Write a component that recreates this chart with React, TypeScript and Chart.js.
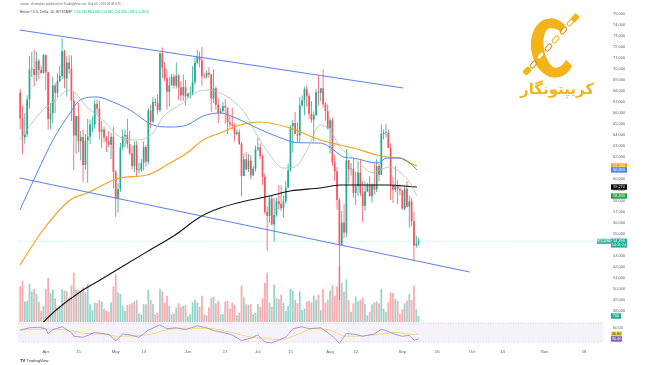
import React, { useEffect, useRef } from "react";
import { Chart, registerables } from "chart.js";

Chart.register(...registerables);

// ---------- data (daily BTC/USD, Bitstamp; day 0 = Apr 1 2024) ----------
const FIRST_DAY = -11; // Mar 21, 2024

const OPEN = [
  67860, 65490, 63780, 64060, 67220, 69960, 69990, 69450, 70750, 69900, 69640,
  71280, 69700, 65460, 65970, 68510, 67840, 68900, 69360, 71620, 69140, 70590, 70010, 67140, 63950, 65720, 63440, 63810, 61280, 63490, 63840, 64950, 64960, 66830, 66410, 64290, 64500, 63770, 63440, 63120, 63840,
  60640, 58250, 59090, 62890, 63890, 64010, 63170, 62330, 61190, 63070, 60790, 60830, 61460, 62900, 61570, 66240, 65230, 67030, 66920, 66270, 71430, 70140, 69150, 67930, 68510, 69290, 68500, 69400, 68330, 67600, 68350,
  67500, 67740, 67760, 68800, 70560, 71080, 70790, 69350, 69310, 69650, 69510, 67320, 68240, 66760, 66010, 66190, 66640, 66490, 65150, 64960, 64840, 64100, 64260, 63190, 60280, 61800, 60860, 61670, 60320, 60940,
  62700, 62880, 62100, 60200, 57020, 56650, 58230, 55870, 56710, 57990, 57720, 57330, 57950, 59220, 60800, 64780, 65080, 64100, 63950, 66700, 67170, 68170, 67570, 65930, 65400, 65800, 67880, 67830, 68250, 66800, 66180,
  64620, 65350, 61500, 60700, 58100, 54020, 56040, 55130, 61700, 60880, 60930, 58720, 59350, 60600, 58740, 57550, 58870, 59480, 58440, 59500, 59030, 61180, 60390, 64100, 64200, 64200, 62820, 59420, 59030, 59370, 59100,
  58950, 57310, 59120, 57480, 57970, 56160, 53950, 54140,
];
const HIGH = [
  68160, 66650, 65990, 67620, 71150, 71540, 71760, 71540, 70900, 70310, 71370,
  71300, 69700, 66900, 69290, 68720, 69620, 70300, 72800, 71750, 71160, 71270, 71230, 67930, 65780, 66900, 64360, 64480, 64120, 65480, 65420, 65700, 67250, 67200, 67080, 65300, 64800, 63920, 64360, 64230, 64720,
  60820, 59600, 63300, 64490, 64510, 65480, 64400, 62990, 63430, 63440, 61470, 61820, 63420, 63100, 66440, 66720, 67440, 67390, 67700, 71500, 71950, 70640, 70000, 69250, 69550, 69520, 70600, 69550, 68900, 69500, 69000,
  67850, 68400, 70250, 71060, 71750, 71600, 72000, 69580, 69860, 70150, 69560, 69990, 68440, 67330, 66440, 66990, 67270, 66490, 65720, 66470, 65060, 64520, 64520, 63370, 62350, 62440, 62270, 62170, 61180, 63050,
  63800, 63260, 62300, 60500, 57490, 58470, 58480, 58250, 58290, 59450, 59400, 58520, 59830, 61400, 64870, 65380, 66100, 65150, 67440, 67620, 68370, 68480, 67800, 67100, 66140, 68200, 69400, 68300, 70000, 67000, 66800,
  65600, 65600, 62200, 61100, 58300, 57100, 57700, 62700, 61750, 61450, 61850, 60680, 61570, 61800, 59850, 59800, 59650, 60250, 59600, 61400, 61800, 61400, 64950, 64500, 65000, 64500, 63250, 60200, 61200, 59900, 59450,
  59000, 59400, 59800, 58500, 58300, 56990, 54850, 54690,
];
const LOW = [
  64550, 62260, 63200, 63820, 66390, 69270, 68400, 68920, 69060, 69570, 69600,
  68100, 64500, 64500, 65060, 66000, 67460, 68800, 69040, 68220, 67510, 69570, 65260, 60800, 62300, 62400, 61700, 59700, 60830, 59650, 63160, 64280, 64560, 65880, 63600, 62800, 63320, 62450, 62880, 61820, 59130,
  56550, 56950, 58840, 62590, 62910, 62770, 62160, 60880, 60640, 60180, 60500, 60630, 60780, 61130, 61350, 64620, 65100, 66610, 65860, 66080, 69160, 68880, 66310, 66600, 68470, 68200, 68230, 67210, 67100, 67130, 66680,
  67380, 67320, 67610, 68560, 70400, 70130, 68500, 69130, 69120, 69230, 66100, 66920, 66310, 65080, 65890, 66020, 65030, 64060, 64700, 64530, 63400, 63930, 63100, 58400, 60250, 60790, 60630, 60000, 60300, 60680,
  62530, 61800, 59450, 56800, 53500, 56020, 55800, 54300, 56570, 57200, 57100, 56520, 57750, 59220, 60650, 62420, 64100, 63270, 63270, 66470, 65800, 66600, 65450, 65120, 63450, 65750, 66700, 67060, 66500, 65300, 64530,
  62300, 61200, 59850, 57200, 49000, 54000, 54600, 54700, 59600, 60300, 58300, 57650, 58450, 58450, 56100, 57100, 58800, 58400, 57850, 58600, 58800, 59800, 60350, 63600, 63800, 62800, 58100, 57850, 58800, 57700, 58500,
  57200, 57150, 57450, 55600, 55700, 52550, 53750, 53930,
];
const CLOSE = [
  65490, 63780, 64060, 67220, 69960, 69990, 69450, 70750, 69900, 69640, 71280,
  69700, 65460, 65970, 68510, 67840, 68900, 69360, 71620, 69140, 70590, 70010, 67140, 63950, 65720, 63440, 63810, 61280, 63490, 63840, 64950, 64960, 66830, 66410, 64290, 64500, 63770, 63440, 63120, 63840, 60640,
  58250, 59090, 62890, 63890, 64010, 63170, 62330, 61190, 63070, 60790, 60830, 61460, 62900, 61570, 66240, 65230, 67030, 66920, 66270, 71430, 70140, 69150, 67930, 68510, 69290, 68500, 69400, 68330, 67600, 68350, 67500,
  67740, 67760, 68800, 70560, 71080, 70790, 69350, 69310, 69650, 69510, 67320, 68240, 66760, 66010, 66190, 66640, 66490, 65150, 64960, 64840, 64100, 64260, 63190, 60280, 61800, 60860, 61670, 60320, 60940, 62700,
  62880, 62100, 60200, 57020, 56650, 58230, 55870, 56710, 57990, 57720, 57330, 57950, 59220, 60800, 64780, 65080, 64100, 63950, 66700, 67170, 68170, 67570, 65930, 65400, 65800, 67880, 67830, 68250, 66800, 66180, 64620,
  65350, 61500, 60700, 58100, 54020, 56040, 55130, 61700, 60880, 60930, 58720, 59350, 60600, 58740, 57550, 58870, 59480, 58440, 59500, 59030, 61180, 60390, 64100, 64200, 64200, 62820, 59420, 59030, 59370, 59100, 58950,
  57310, 59120, 57480, 57970, 56160, 53950, 54140, 54330,
];
const VOLUME = [
  4200, 4800, 2400, 2500, 4500, 3600, 3900, 3300, 2400, 1300, 1900,
  3900, 5200, 3400, 3800, 2800, 1600, 1800, 3900, 3700, 3600, 2900, 4300, 5800, 3800, 3800, 3700, 4100, 3500, 4500, 2100, 1400, 2300, 2200, 2600, 2400, 1600, 1300, 1200, 2300, 4200,
  5600, 3500, 3300, 1900, 1300, 2000, 2100, 2200, 2400, 2600, 1000, 900, 2100, 2100, 3800, 2600, 2100, 900, 1100, 3900, 3600, 2300, 3100, 1900, 900, 1000, 1700, 2200, 1800, 1900, 2000,
  700, 900, 2300, 2600, 2300, 1800, 3100, 900, 800, 1700, 2800, 3000, 2200, 2500, 900, 900, 2400, 2500, 1600, 2300, 2000, 800, 1100, 4300, 2900, 2100, 2000, 2100, 900, 1100,
  2100, 1800, 2800, 4600, 5800, 2300, 1800, 4400, 2800, 2700, 3200, 2300, 1300, 1900, 3900, 3700, 2600, 2200, 3600, 1400, 1600, 2400, 2500, 2300, 3100, 2600, 3200, 1400, 3900, 2300, 2600,
  3700, 4300, 3100, 4200, 6600, 4600, 3600, 5000, 2600, 1200, 2200, 3000, 2400, 2600, 2900, 2100, 800, 1200, 2100, 2300, 2400, 2200, 3900, 1600, 1200, 2300, 3500, 3400, 2700, 2500, 1000,
  1500, 2200, 2500, 3300, 2600, 4300, 1500, 700,
];

// moving averages (day, value)
const SMA20_DAYS = [-11.1, -8.1, -2.5, 3.1, 10.4, 17.7, 24.5, 31.8, 39.1, 46, 50.3, 57.6, 64.9, 70.5, 74.8, 80, 85.5, 90.6, 96.2, 101.8, 107, 112.1, 117.7, 122, 126.3, 131.9, 136.2, 140.5, 143.4, 147.7, 152, 156.3, 159.3];
const SMA20 = [63545, 64455, 66000, 67000, 68091, 66545, 65364, 63818, 63545, 64182, 65636, 66727, 67909, 68091, 67818, 67180, 66000, 64000, 62180, 61000, 61090, 62640, 64910, 64450, 62910, 61910, 61090, 60545, 60820, 61090, 60640, 59640, 58450];
const SMA50_DAYS = [-11.1, -3.8, 3.1, 10.4, 14.7, 22, 28.8, 36.1, 46, 53.3, 60.6, 67.5, 74.8, 82, 91, 100, 108, 117.7, 122, 127.8, 131.9, 142.2, 146.4, 152, 156.3, 159.3];
const SMA50 = [57182, 60545, 63545, 66000, 67182, 67455, 67000, 66273, 64909, 64727, 64909, 65727, 66000, 65500, 64600, 63800, 63300, 63270, 62900, 62000, 61900, 61450, 61900, 61900, 61450, 60820];
const SMA100_DAYS = [-11.1, -1.2, 10.4, 17.7, 31.8, 43.4, 53.3, 60.6, 67.5, 74.8, 83.3, 91.9, 104.8, 117.7, 126.3, 131.9, 142.2, 146.4, 152, 156.3, 159.3];
const SMA100 = [52182, 55364, 58091, 58727, 60091, 60364, 61455, 62364, 63545, 64182, 64909, 65182, 64636, 63545, 63091, 62818, 62182, 62000, 61909, 61455, 61180];
const SMA200_DAYS = [-1, 4.4, 14.7, 23.3, 31.8, 44.7, 55.5, 66.2, 74.8, 87.6, 96.2, 104.8, 117.7, 126.3, 146.4, 159.3];
const SMA200 = [47000, 48090, 49730, 50820, 51910, 53545, 54910, 56545, 57360, 58090, 58450, 58910, 59180, 59450, 59450, 59270];

// descending channel (two hand-drawn trend lines)
const CHANNEL_TOP_DAYS = [-11.2, 153.4];
const CHANNEL_TOP = [73545, 68273];
const CHANNEL_BOTTOM_DAYS = [-11.2, 181.9];
const CHANNEL_BOTTOM = [60091, 51545];

// RSI pane
const RSI_DAYS = [-11, -7, -3, 0, 1, 3, 7, 11, 12, 16, 21, 27, 29, 30, 33, 36, 40, 44, 49, 52, 56, 60, 65, 69, 72, 76, 80, 84, 88, 91, 94, 97, 103, 106, 110, 113, 118, 121, 124, 126, 129, 133, 136, 141, 144, 147, 150, 153, 156, 158, 160];
const RSI = [55, 60, 61, 58, 47, 56, 62, 50, 42, 40, 50, 46, 37, 32, 47, 45, 40, 55, 66, 58, 60, 56, 64, 60, 54, 50, 45, 33, 38, 45, 30, 28, 40, 58, 62, 58, 60, 50, 38, 27, 48, 46, 42, 47, 57, 52, 46, 42, 44, 34, 36.4];
const RSI_MA_DAYS = [-11, -4, 3, 10, 17, 24, 31, 38, 45, 52, 59, 66, 73, 80, 87, 94, 101, 108, 115, 122, 129, 136, 143, 150, 157, 160];
const RSI_MA = [55, 57, 57, 55, 48, 47, 42, 43, 46, 56, 59, 59, 57, 50, 41, 38, 35, 46, 58, 55, 42, 43, 46, 50, 46, 46.8];
const RSI_BAND = [70, 30];
const RSI_TICKS = [60];

// axes
const X_TICK_DAYS = [0, 14, 30, 42, 61, 77, 91, 105, 122, 133, 153, 168, 183, 196, 214, 231];
const X_TICK_LABELS = ["Apr", "15", "May", "13", "Jun", "17", "Jul", "15", "Aug", "12", "Sep", "16", "Oct", "14", "Nov", "18"];
const PRICE_TICKS = [48000, 49000, 50000, 51000, 52000, 53000, 54000, 55000, 56000, 57000, 58000, 59000, 60000, 61000, 62000, 63000, 64000, 65000, 66000, 67000, 68000, 69000, 70000, 71000, 72000, 73000, 74000, 75000];

const HEADER_LINE_1 = "arsoon_shirmohan published on TradingView.com, Sep 08, 2024 09:48 UTC";
const HEADER_SYMBOL = "Bitcoin / U.S. Dollar, 1D, BITSTAMP";
const SYMBOL_BADGE = "BTCUSD";
const COUNTDOWN = "14:11:24";
const LOGO_TEXT = "کریپتونگار";

// ---------- styles ----------
const FONT = "'Liberation Sans', Arial, sans-serif";
const UP = "#22ab94";
const DOWN = "#f7525f";
const UP_VOL = "rgba(34,171,148,0.5)";
const DOWN_VOL = "rgba(247,82,95,0.5)";
const C_SMA20 = "#a3c9a0";
const C_SMA50 = "#4f86f7";
const C_SMA100 = "#f7a21b";
const C_SMA200 = "#111111";
const C_CHANNEL = "#4b6ef5";
const C_RSI = "#8a74c4";
const C_RSI_MA = "#e8d24a";
const GOLD = "#f2b418";

const X_MIN = -11.93;
const X_MAX = 239.14;
const PRICE_MIN = 47000;
const PRICE_MAX = 76090.9;
const RSI_MIN = 21.58;
const RSI_MAX = 72.1;
const VOL_PX_PER_UNIT = 0.0085; // pixels per traded coin
const VOL_MIN = -24 / VOL_PX_PER_UNIT;
const VOL_MAX = 320 / VOL_PX_PER_UNIT;

const fmt = (v: number) => Math.round(v).toLocaleString("en-US");
const last = (a: number[]) => a[a.length - 1];

const pts = (xs: number[], ys: number[]) => xs.map((x, i) => ({ x, y: ys[i] }));

const noVerticalPadding = (a: any) => {
  a.width = 47;
  a.paddingTop = 0;
  a.paddingBottom = 0;
};

const textPlugin = {
  id: "texts",
  afterDraw(chart: any) {
    const { ctx } = chart;
    ctx.save();
    ctx.textBaseline = "middle";
    ctx.textAlign = "left";
    ctx.font = `3px ${FONT}`;
    ctx.fillStyle = "#6a6d78";
    ctx.fillText(HEADER_LINE_1, 20, 4.5);
    const n = CLOSE.length - 1;
    const ch = CLOSE[n] - CLOSE[n - 1];
    const pct = ((ch / CLOSE[n - 1]) * 100).toFixed(2);
    const head = HEADER_SYMBOL + "  ";
    ctx.font = `3.3px ${FONT}`;
    ctx.fillStyle = "#4a4e5a";
    ctx.fillText(head, 20, 12.5);
    const w = ctx.measureText(head).width;
    ctx.fillStyle = UP;
    ctx.fillText(`O${fmt(OPEN[n])} H${fmt(HIGH[n])} L${fmt(LOW[n])} C${fmt(CLOSE[n])} +${fmt(ch)} (+${pct}%)`, 20 + w, 12.5);
    // TradingView mark
    ctx.font = `bold 4.2px ${FONT}`;
    ctx.fillStyle = "#131722";
    ctx.fillText("TV", 20, 361);
    ctx.font = `4px ${FONT}`;
    ctx.fillStyle = "#2a2e39";
    ctx.fillText("TradingView", 26.5, 361);
    ctx.restore();
  },
};

const badgePlugin = {
  id: "badges",
  afterDraw(chart: any) {
    const { ctx, scales } = chart;
    const py = scales.y;
    const ry = scales.yr;
    const vy = scales.yv;
    const x0 = py.left + 8;
    const bw = 16;
    const bh = 5.4;
    ctx.save();
    ctx.font = `3.8px ${FONT}`;
    ctx.textAlign = "center";
    ctx.textBaseline = "middle";
    const badge = (yc: number, bg: string, fg: string, text: string, x = x0, w = bw) => {
      ctx.fillStyle = bg;
      ctx.fillRect(x, yc - bh / 2, w, bh);
      ctx.fillStyle = fg;
      ctx.fillText(text, x + w / 2, yc + 0.2);
    };
    badge(py.getPixelForValue(last(SMA100)), C_SMA100, "#fff", fmt(last(SMA100)));
    badge(py.getPixelForValue(last(SMA50)), C_SMA50, "#fff", fmt(last(SMA50)));
    badge(py.getPixelForValue(last(SMA200)), "#000", "#fff", fmt(last(SMA200)));
    badge(py.getPixelForValue(last(SMA20)), "#2e9e48", "#fff", fmt(last(SMA20)));
    // current price: two-line badge
    const yp = py.getPixelForValue(last(CLOSE));
    ctx.fillStyle = UP;
    ctx.fillRect(x0, yp - 2.8, bw, 9);
    ctx.fillStyle = "#fff";
    ctx.fillText(fmt(last(CLOSE)), x0 + bw / 2, yp);
    ctx.fillText(COUNTDOWN, x0 + bw / 2, yp + 4);
    ctx.fillStyle = "rgba(34,171,148,0.85)";
    ctx.fillRect(py.left - 6, yp - 2.6, 14, 5.2);
    ctx.fillStyle = "#fff";
    ctx.fillText(SYMBOL_BADGE, py.left + 1, yp);
    // volume
    badge(vy.getPixelForValue(last(VOLUME)), UP, "#fff", String(last(VOLUME)), x0, 10);
    // RSI
    badge(ry.getPixelForValue(last(RSI_MA)), "#f5e12a", "#333", last(RSI_MA).toFixed(2), x0, 11);
    badge(ry.getPixelForValue(last(RSI)), "#7e57c2", "#fff", last(RSI).toFixed(2), x0, 11);
    ctx.restore();
  },
};

function buildConfig(): any {
  const days = CLOSE.map((_, i) => FIRST_DAY + i);
  const isUp = (i: number) => CLOSE[i] >= OPEN[i];
  const lineBase = { type: "line", pointRadius: 0, borderWidth: 1, fill: false, cubicInterpolationMode: "monotone" };
  const noGrid = { display: false, drawTicks: false, tickLength: 0 };
  return {
    type: "bar",
    data: {
      datasets: [
        {
          type: "bar", label: "volume", yAxisID: "yv", order: 30,
          data: days.map((d, i) => ({ x: d, y: VOLUME[i] })),
          backgroundColor: (c: any) => (isUp(c.dataIndex) ? UP_VOL : DOWN_VOL),
          grouped: false, categoryPercentage: 1, barPercentage: 0.74, inflateAmount: 0,
        },
        {
          ...lineBase, label: "rsi70", yAxisID: "yr", order: 25,
          data: [{ x: X_MIN, y: RSI_BAND[0] }, { x: X_MAX, y: RSI_BAND[0] }],
          borderColor: "rgba(120,123,134,0.55)", borderWidth: 0.6, borderDash: [1, 1.5],
          fill: "+1", backgroundColor: "rgba(126,87,194,0.08)",
        },
        {
          ...lineBase, label: "rsi30", yAxisID: "yr", order: 24,
          data: [{ x: X_MIN, y: RSI_BAND[1] }, { x: X_MAX, y: RSI_BAND[1] }],
          borderColor: "rgba(120,123,134,0.55)", borderWidth: 0.6, borderDash: [1, 1.5],
        },
        { ...lineBase, label: "rsiMA", yAxisID: "yr", order: 23, data: pts(RSI_MA_DAYS, RSI_MA), borderColor: C_RSI_MA, borderWidth: 0.7 },
        { ...lineBase, label: "rsi", yAxisID: "yr", order: 22, data: pts(RSI_DAYS, RSI), borderColor: C_RSI, borderWidth: 0.7, cubicInterpolationMode: "default", tension: 0 },
        {
          ...lineBase, label: "last", yAxisID: "y", order: 21,
          data: [{ x: X_MIN, y: last(CLOSE) }, { x: X_MAX, y: last(CLOSE) }],
          borderColor: "rgba(34,171,148,0.35)", borderWidth: 0.6, borderDash: [1, 1],
        },
        {
          type: "bar", label: "wick", yAxisID: "y", order: 6,
          data: days.map((d, i) => ({ x: d, y: [LOW[i], HIGH[i]] })),
          backgroundColor: (c: any) => (isUp(c.dataIndex) ? UP : DOWN),
          grouped: false, categoryPercentage: 1, barPercentage: 0.34, inflateAmount: 0,
        },
        {
          type: "bar", label: "body", yAxisID: "y", order: 5,
          data: days.map((d, i) => ({ x: d, y: [OPEN[i], CLOSE[i]] })),
          backgroundColor: (c: any) => (isUp(c.dataIndex) ? UP : DOWN),
          grouped: false, categoryPercentage: 1, barPercentage: 0.74, inflateAmount: 0, minBarLength: 0.8,
        },
        { ...lineBase, label: "sma200", yAxisID: "y", order: 4, data: pts(SMA200_DAYS, SMA200), borderColor: C_SMA200, borderWidth: 1.1 },
        { ...lineBase, label: "sma100", yAxisID: "y", order: 3, data: pts(SMA100_DAYS, SMA100), borderColor: C_SMA100, borderWidth: 1.2 },
        { ...lineBase, label: "sma50", yAxisID: "y", order: 2, data: pts(SMA50_DAYS, SMA50), borderColor: C_SMA50, borderWidth: 1 },
        { ...lineBase, label: "sma20", yAxisID: "y", order: 1, data: pts(SMA20_DAYS, SMA20), borderColor: C_SMA20, borderWidth: 0.8 },
        { ...lineBase, label: "chTop", yAxisID: "y", order: 0, data: pts(CHANNEL_TOP_DAYS, CHANNEL_TOP), borderColor: C_CHANNEL, borderWidth: 0.9 },
        { ...lineBase, label: "chBottom", yAxisID: "y", order: 0, data: pts(CHANNEL_BOTTOM_DAYS, CHANNEL_BOTTOM), borderColor: C_CHANNEL, borderWidth: 0.9 },
      ],
    },
    options: {
      responsive: false,
      devicePixelRatio: 1,
      animation: false,
      events: [],
      layout: { padding: { left: 18, right: 0, top: 2, bottom: 0 } },
      plugins: { legend: { display: false }, tooltip: { enabled: false } },
      scales: {
        x: {
          type: "linear", min: X_MIN, max: X_MAX, offset: false,
          grid: noGrid, border: { display: false },
          afterBuildTicks: (a: any) => { a.ticks = X_TICK_DAYS.map((v) => ({ value: v })); },
          ticks: {
            autoSkip: false, maxRotation: 0, padding: 3, color: "#5d606b",
            font: { size: 4.3, family: FONT },
            callback: (v: any) => { const k = X_TICK_DAYS.indexOf(Number(v)); return k >= 0 ? X_TICK_LABELS[k] : ""; },
          },
          afterFit: (a: any) => { a.height = 19; a.paddingLeft = 0; a.paddingRight = 0; },
        },
        y: {
          type: "linear", position: "right", stack: "pane", stackWeight: 320,
          min: PRICE_MIN, max: PRICE_MAX,
          grid: noGrid, border: { display: false },
          afterBuildTicks: (a: any) => { a.ticks = PRICE_TICKS.map((v) => ({ value: v })); },
          ticks: { autoSkip: false, padding: 10, color: "#5d606b", font: { size: 4, family: FONT }, callback: (v: any) => fmt(Number(v)) },
          afterFit: noVerticalPadding,
        },
        yr: {
          type: "linear", position: "right", stack: "pane", stackWeight: 24,
          min: RSI_MIN, max: RSI_MAX,
          grid: noGrid, border: { display: false },
          afterBuildTicks: (a: any) => { a.ticks = RSI_TICKS.map((v) => ({ value: v })); },
          ticks: { autoSkip: false, padding: 10, color: "#5d606b", font: { size: 4, family: FONT }, callback: (v: any) => Number(v).toFixed(2) },
          afterFit: noVerticalPadding,
        },
        yv: { type: "linear", position: "left", display: false, min: VOL_MIN, max: VOL_MAX },
      },
    },
    plugins: [textPlugin, badgePlugin],
  };
}

const CHAIN_LINKS = [0.05, 0.22, 0.39, 0.56, 0.73, 0.9];

function Logo() {
  const x1 = 573, y1 = 20, x2 = 529, y2 = 69;
  return (
    <div style={{ position: "absolute", left: 0, top: 0, width: 650, height: 120, pointerEvents: "none" }}>
      <div
        style={{
          position: "absolute", left: 531, top: 18, width: 44, height: 60, boxSizing: "border-box",
          borderRadius: "50%", borderStyle: "solid", borderColor: GOLD, borderRightColor: "transparent",
          borderWidth: "10px 7px 10px 13px", transform: "rotate(-10deg)",
        }}
      />
      {CHAIN_LINKS.map((t, i) => (
        <div
          key={i}
          style={{
            position: "absolute", left: x1 + (x2 - x1) * t - 4.5, top: y1 + (y2 - y1) * t - 2.5,
            width: 9, height: 5, boxSizing: "border-box", borderRadius: 3,
            border: `1.6px solid ${i % 2 ? "#d99300" : GOLD}`, background: i % 2 ? "transparent" : "#fff",
            transform: "rotate(-48deg)",
          }}
        />
      ))}
      <div style={{ position: "absolute", left: x1 - 2, top: y1 - 5, width: 8, height: 6, background: GOLD, borderRadius: 1.5, transform: "rotate(-48deg)" }} />
      <div style={{ position: "absolute", left: x2 - 6, top: y2 - 1, width: 8, height: 6, background: GOLD, borderRadius: 1.5, transform: "rotate(-48deg)" }} />
      <div
        style={{
          position: "absolute", left: 520, top: 79, width: 74, textAlign: "center", direction: "rtl",
          fontFamily: "'DejaVu Sans', sans-serif", fontWeight: 700, fontSize: 15, lineHeight: "20px", color: GOLD,
        }}
      >
        {LOGO_TEXT}
      </div>
    </div>
  );
}

export default function App() {
  const ref = useRef<HTMLCanvasElement>(null);
  useEffect(() => {
    const chart = new Chart(ref.current as HTMLCanvasElement, buildConfig());
    return () => chart.destroy();
  }, []);
  return (
    <div style={{ position: "fixed", left: 0, top: 0, width: 650, height: 365, background: "#fff", overflow: "hidden" }}>
      <canvas ref={ref} width={650} height={365} style={{ position: "absolute", left: 0, top: 0, width: 650, height: 365 }} />
      <Logo />
    </div>
  );
}
